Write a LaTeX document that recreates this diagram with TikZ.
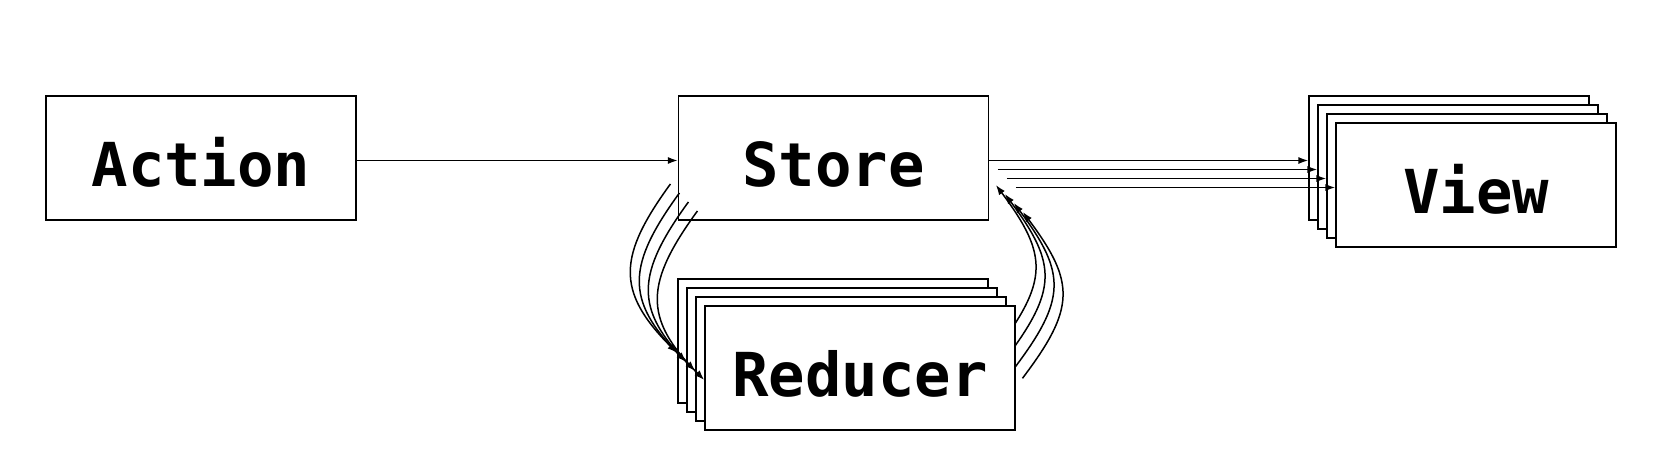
\documentclass[tikz,border=0pt]{standalone}
\usepackage{fontspec}
\setmonofont{DejaVu Sans Mono}
\usetikzlibrary{arrows.meta}
\begin{document}
\begin{tikzpicture}[x=0.5pt,y=-0.5pt,
  box/.style={draw=black, line width=0.75pt, fill=white, rectangle, inner sep=0pt,
    minimum width=155pt, minimum height=62pt,
    font=\ttfamily\bfseries\fontsize{30.3pt}{36pt}\selectfont,
    text height=28.6pt, text depth=0pt},
  viewbox/.style={box, minimum width=140pt},
  ghost/.style={rectangle, inner sep=0pt, minimum width=155pt, minimum height=62pt},
  arr/.style={line width=0.75pt, -{Latex[length=5pt,width=3.6pt]}},
]
\useasboundingbox (0,0) rectangle (1666,471);
\node[box] (action) at (201,158) {Action};
\node[box] (store) at (833.5,158) {Store};
\draw[arr] ([yshift=-1.25pt]action.east) -- ([yshift=-1.25pt]store.west);
\foreach \i in {0,...,3} {
  \node[box] (reducer\i) at ({833+9*\i},{341+9*\i}) {\ifnum\i=3 Reducer\fi};
  \node[viewbox] (view\i) at ({1449+9*\i},{158+9*\i}) {\ifnum\i=3 View\fi};
  \node[ghost] (store\i) at ({833.5+9*\i},{158+9*\i}) {};
  \coordinate (ls\i) at ([shift={(-3.85pt,-13pt)}]store\i.west);
  \coordinate (lr\i) at ([shift={(0pt,-6pt)}]reducer\i.west);
  \coordinate (rr\i) at ([shift={(3.35pt,-5.15pt)}]reducer\i.east);
  \coordinate (rs\i) at ([shift={(3.5pt,-13.5pt)}]store\i.east);
  \draw[arr] ([yshift=-1.25pt]store\i.east) -- ([yshift=-1.25pt]view\i.west);
  \draw[arr] (ls\i) to[out=234, in=135, looseness=1.33] (lr\i);
  \draw[arr] (rr\i) to[bend right=37, looseness=1.35] (rs\i);
}
\end{tikzpicture}
\end{document}
